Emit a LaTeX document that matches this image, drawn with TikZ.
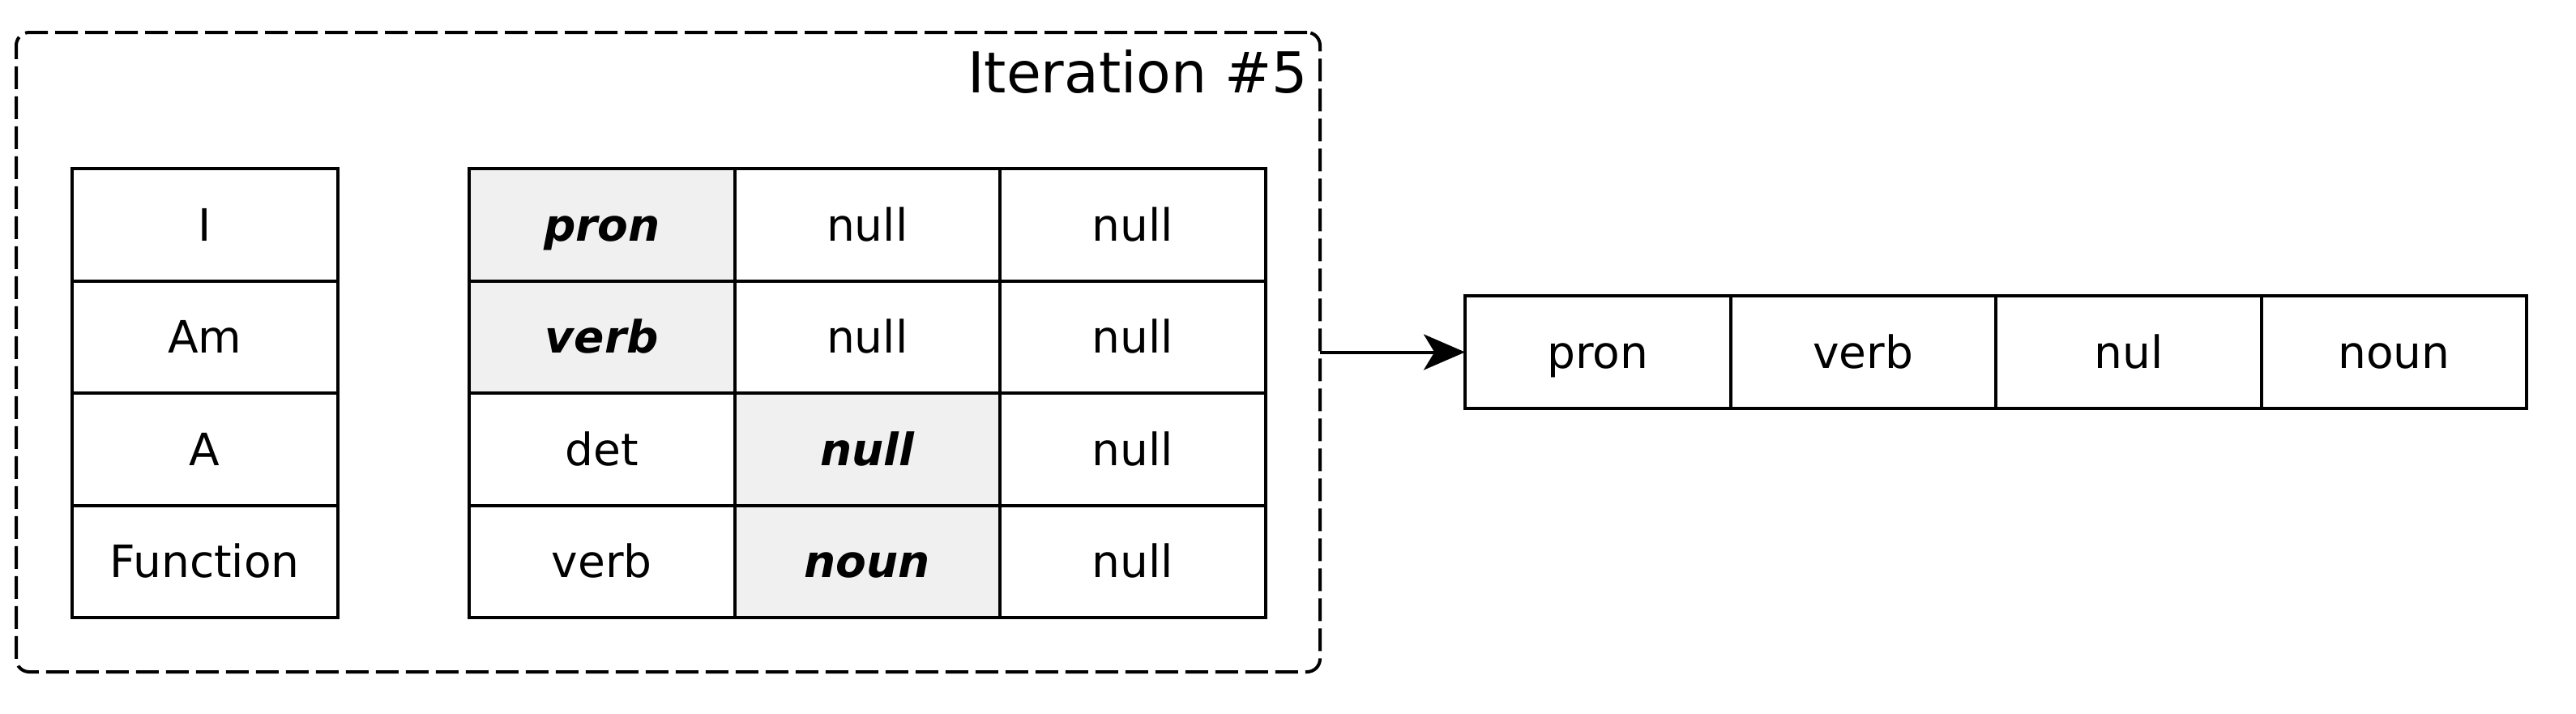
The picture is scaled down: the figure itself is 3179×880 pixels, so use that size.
\documentclass[tikz,border=0pt]{standalone}
\usepackage{fontspec}
\setmainfont{DejaVu Sans}
\usetikzlibrary{positioning,arrows.meta}
\definecolor{cellgray}{HTML}{F0F0F0}
\tikzset{
  cell/.style={draw,line width=1pt,minimum width=81.875pt,minimum height=34.625pt,
    inner sep=0pt,outer sep=0pt,text height=10pt,text depth=0pt,
    font=\fontsize{13.75}{16}\selectfont},
  pick/.style={cell,fill=cellgray,font=\fontsize{13.75}{16}\selectfont\bfseries\itshape},
  iterframe/.style={draw,line width=1pt,dash pattern=on 7pt off 2.25pt,rounded corners=4pt,
    minimum width=402.25pt,minimum height=197.25pt,inner sep=0pt,outer sep=0pt},
}
\begin{document}
\begin{tikzpicture}[x=0.25pt,y=-0.25pt]
    \useasboundingbox (0,0) rectangle (3179,880);
    %% frame
    \node[iterframe] (iter) at (824.5,434.5) {};
    \node[anchor=base east,inner sep=0pt,font=\fontsize{17.4}{20}\selectfont] (title) at (1615,114) {Iteration \#5};
    %% words
    \node[cell,anchor=north west] (w1) at (89,208) {I};
    \node[cell,below=0pt of w1] (w2) {Am};
    \node[cell,below=0pt of w2] (w3) {A};
    \node[cell,below=0pt of w3] (w4) {Function};
    %% tags
    \node[pick,anchor=north west] (t11) at (579,208) {pron};
    \node[cell,right=0pt of t11] (t12) {null};
    \node[cell,right=0pt of t12] (t13) {null};
    \node[pick,below=0pt of t11] (t21) {verb};
    \node[cell,right=0pt of t21] (t22) {null};
    \node[cell,right=0pt of t22] (t23) {null};
    \node[cell,below=0pt of t21] (t31) {det};
    \node[pick,right=0pt of t31] (t32) {null};
    \node[cell,right=0pt of t32] (t33) {null};
    \node[cell,below=0pt of t31] (t41) {verb};
    \node[pick,right=0pt of t41] (t42) {noun};
    \node[cell,right=0pt of t42] (t43) {null};
    %% output
    \node[cell,anchor=west] (o1) at (1808,434.5) {pron};
    \node[cell,right=0pt of o1] (o2) {verb};
    \node[cell,right=0pt of o2] (o3) {nul};
    \node[cell,right=0pt of o3] (o4) {noun};
    %% arrow
    \draw[line width=1pt,-{Stealth[length=12.75pt,width=11pt,inset=3.3pt]}] (iter.east) -- (o1.west);
\end{tikzpicture}
\end{document}
